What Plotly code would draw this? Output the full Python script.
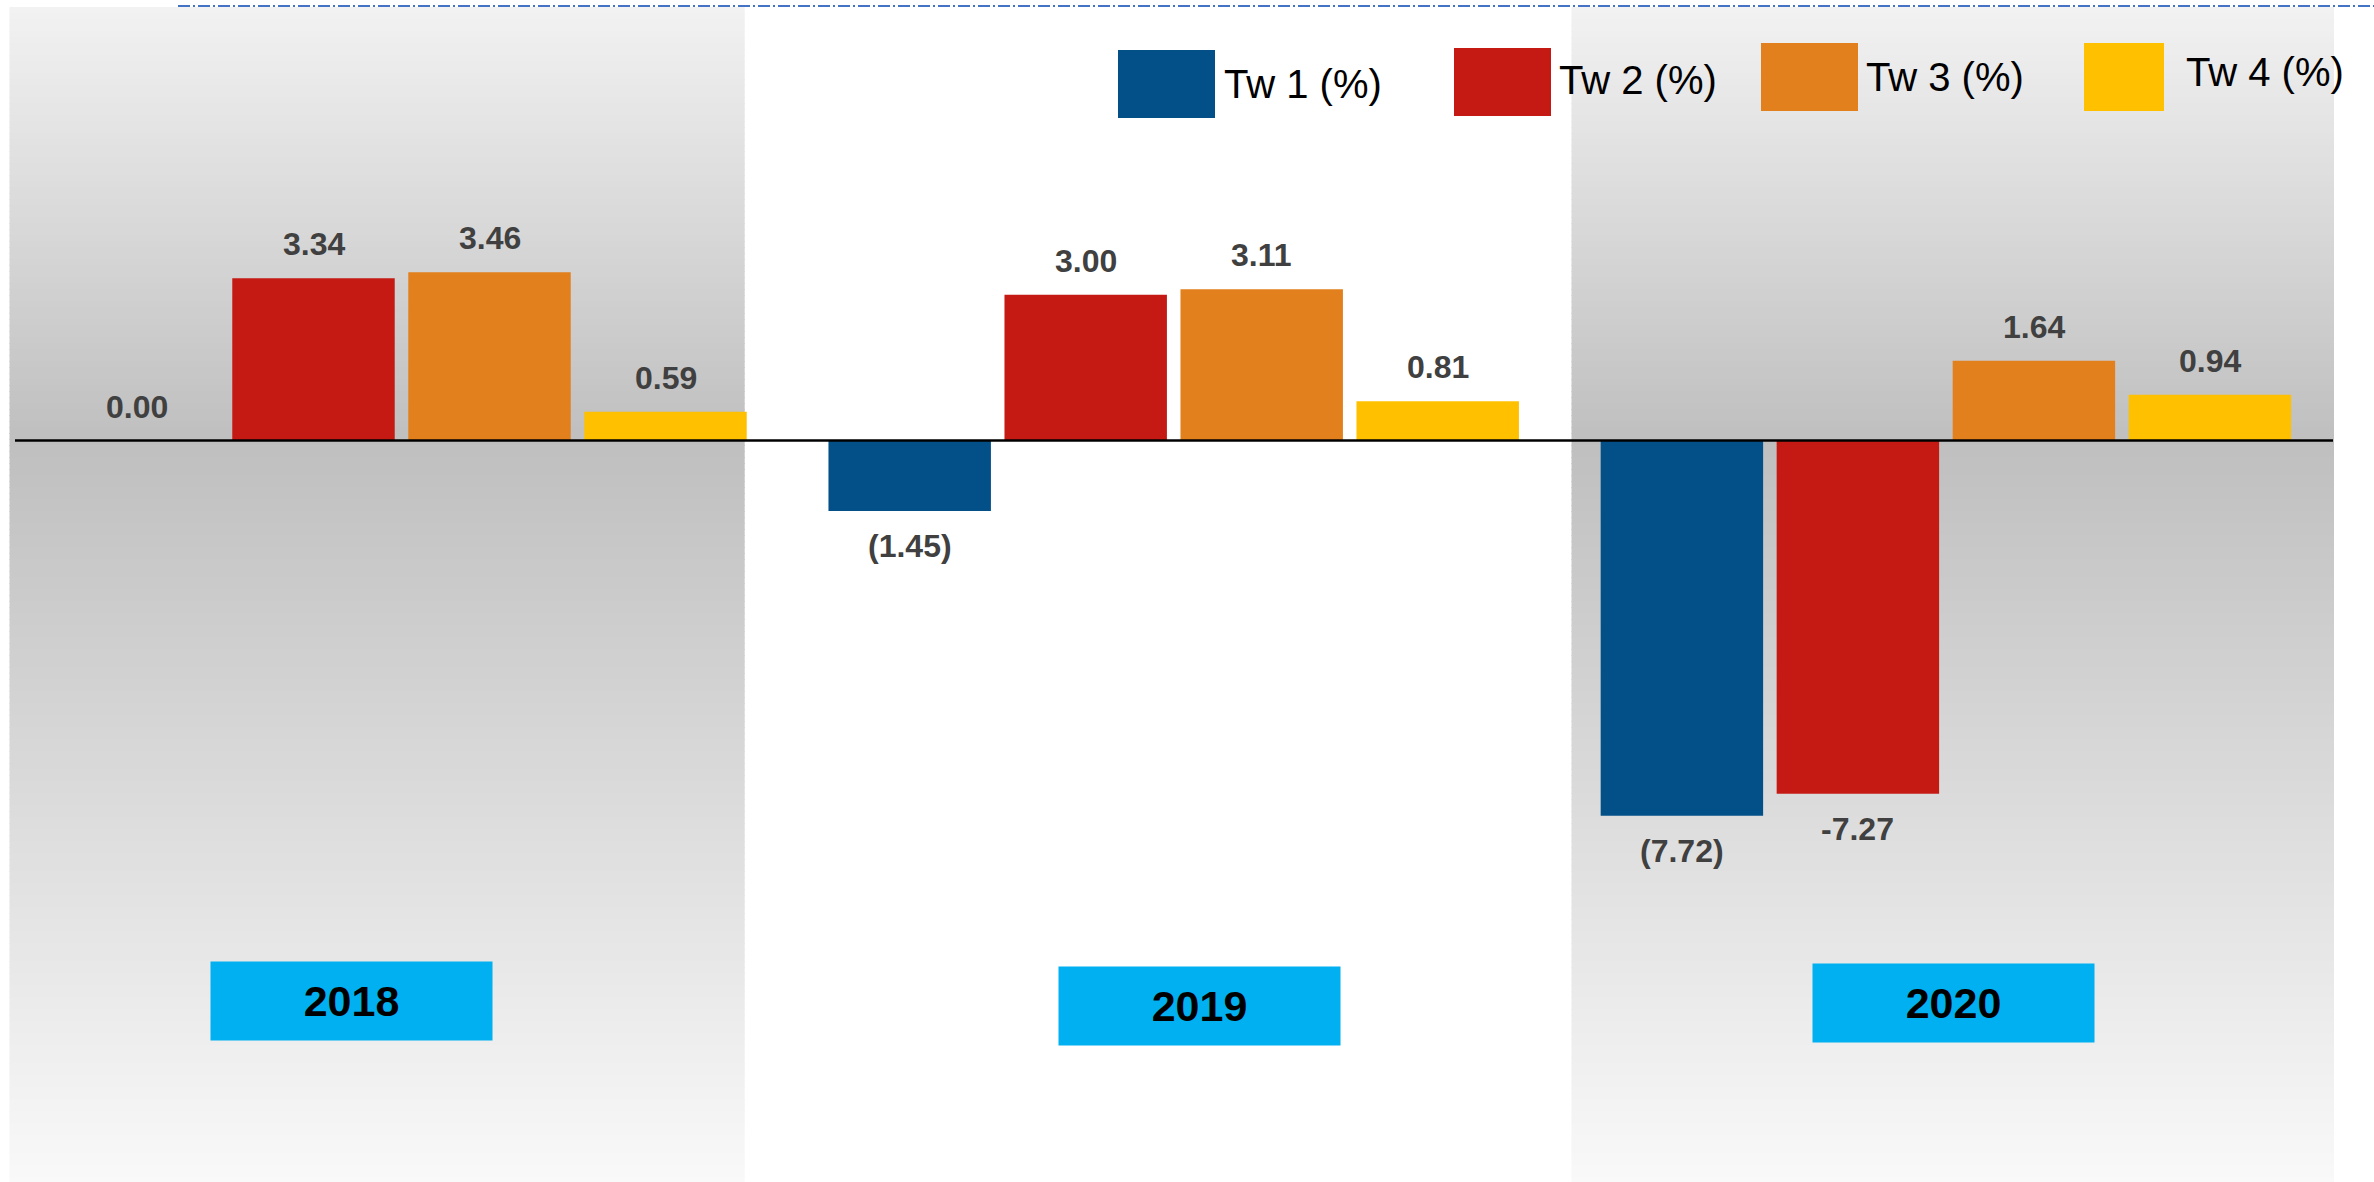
import plotly.graph_objects as go

# ---------------- data ----------------
years = ["2018", "2019", "2020"]
series_names = ["Tw 1 (%)", "Tw 2 (%)", "Tw 3 (%)", "Tw 4 (%)"]
tw1 = [0.00, -1.45, -7.72]
tw2 = [3.34, 3.00, -7.27]
tw3 = [3.46, 3.11, 1.64]
tw4 = [0.59, 0.81, 0.94]
tw1_labels = ["0.00", "(1.45)", "(7.72)"]
tw2_labels = ["3.34", "3.00", "-7.27"]
tw3_labels = ["3.46", "3.11", "1.64"]
tw4_labels = ["0.59", "0.81", "0.94"]

# ---------------- style ----------------
W, H = 2374, 1182
colors = ["#034F87", "#C41A13", "#E2801D", "#FFC000"]
label_color = "#404040"
FONT = "Liberation Sans, Arial, sans-serif"

ZERO_PX = 440.5          # pixel row of the zero line
PX_PER_UNIT = 48.6       # vertical scale
CAT0_PX = 401.5          # pixel centre of first category
CAT_PX = 772.2           # pixel width of a category
BARGAP = 0.0883
BARGROUPGAP = 0.077

y_top = ZERO_PX / PX_PER_UNIT
y_bot = (ZERO_PX - H) / PX_PER_UNIT
x_left = -CAT0_PX / CAT_PX
x_right = (W - CAT0_PX) / CAT_PX

values = [tw1, tw2, tw3, tw4]
labels = [tw1_labels, tw2_labels, tw3_labels, tw4_labels]

fig = go.Figure()
for name, vals, col in zip(series_names, values, colors):
    fig.add_trace(go.Bar(x=years, y=vals, name=name, marker=dict(color=col, line=dict(width=0)),
                         showlegend=False, hoverinfo="x+y+name"))

shapes = []
annotations = []


def px_x(p):
    return p / W


def px_y(p):
    return 1 - p / H


# gradient panels (2018 and 2020 backgrounds)
panels = [(9.5, 744.7), (1571.5, 2334)]
TOP_PX, BOT_PX = 7, H
C_TOP, C_MID, C_BOT = 242, 191, 249
step = 6
for (xa, xb) in panels:
    y = TOP_PX
    while y < BOT_PX:
        yc = y + step / 2
        if yc <= ZERO_PX:
            g = C_TOP + (C_MID - C_TOP) * (yc - TOP_PX) / (ZERO_PX - TOP_PX)
        else:
            g = C_MID + (C_BOT - C_MID) * (yc - ZERO_PX) / (BOT_PX - ZERO_PX)
        g = int(round(g))
        shapes.append(dict(type="rect", xref="paper", yref="paper",
                           x0=px_x(xa), x1=px_x(xb),
                           y0=px_y(min(y + step + 1, BOT_PX)), y1=px_y(y),
                           fillcolor=f"rgb({g},{g},{g})", line=dict(width=0), layer="below"))
        y += step

# zero line
shapes.append(dict(type="line", xref="paper", yref="y", x0=px_x(15), x1=px_x(2333), y0=0, y1=0,
                   line=dict(color="black", width=2.5), layer="above"))

# top dash-dot line
shapes.append(dict(type="line", xref="paper", yref="paper", x0=px_x(178), x1=1, y0=px_y(6), y1=px_y(6),
                   line=dict(color="#4472C4", width=2.2, dash="12px,3px,2px,3px"), layer="above"))

# data labels
slot = (1 - BARGAP) / 4
for k, (vals, labs) in enumerate(zip(values, labels)):
    for i, (v, lab) in enumerate(zip(vals, labs)):
        xpos = i + (k - 1.5) * slot
        if v >= 0:
            annotations.append(dict(x=xpos, y=v, xref="x", yref="y", text=f"<b>{lab}</b>",
                                    showarrow=False, yanchor="bottom", yshift=14,
                                    font=dict(family=FONT, size=32, color=label_color)))
        else:
            annotations.append(dict(x=xpos, y=v, xref="x", yref="y", text=f"<b>{lab}</b>",
                                    showarrow=False, yanchor="top", yshift=-15,
                                    font=dict(family=FONT, size=32, color=label_color)))

# year boxes (category labels)
year_shift = [-50, 26, 8]
year_ypx = [1001, 1006, 1003]
for i, (yr, xs, ypx) in enumerate(zip(years, year_shift, year_ypx)):
    annotations.append(dict(x=i, y=px_y(ypx), xref="x", yref="paper", xshift=xs,
                            text=f"<b>{yr}</b>", showarrow=False, xanchor="center", yanchor="middle",
                            width=281, height=78, bgcolor="#00B0F0", borderpad=0,
                            font=dict(family=FONT, size=43, color="black")))

# custom legend
leg_rects = [(1118, 1215, 50, 118), (1454, 1551, 48, 116), (1761, 1858, 43, 111), (2084, 2164, 43, 111)]
leg_text = [(1222, 84), (1557, 80), (1864, 77), (2184, 72)]
for name, col, (x0, x1, y0, y1), (tx, ty) in zip(series_names, colors, leg_rects, leg_text):
    shapes.append(dict(type="rect", xref="paper", yref="paper", x0=px_x(x0), x1=px_x(x1),
                       y0=px_y(y1), y1=px_y(y0), fillcolor=col, line=dict(width=0), layer="above"))
    annotations.append(dict(x=px_x(tx), y=px_y(ty), xref="paper", yref="paper", text=name,
                            showarrow=False, xanchor="left", yanchor="middle",
                            font=dict(family=FONT, size=40, color="black")))

fig.update_layout(
    width=W, height=H,
    margin=dict(l=0, r=0, t=0, b=0),
    paper_bgcolor="white", plot_bgcolor="rgba(0,0,0,0)",
    barmode="group", bargap=BARGAP, bargroupgap=BARGROUPGAP,
    xaxis=dict(range=[x_left, x_right], visible=False, fixedrange=True),
    yaxis=dict(range=[y_bot, y_top], visible=False, fixedrange=True),
    shapes=shapes, annotations=annotations,
    showlegend=False,
)

fig.write_html("out.html", config={"displayModeBar": False},
               post_script="document.body.style.margin='0';document.body.style.overflow='hidden';")
